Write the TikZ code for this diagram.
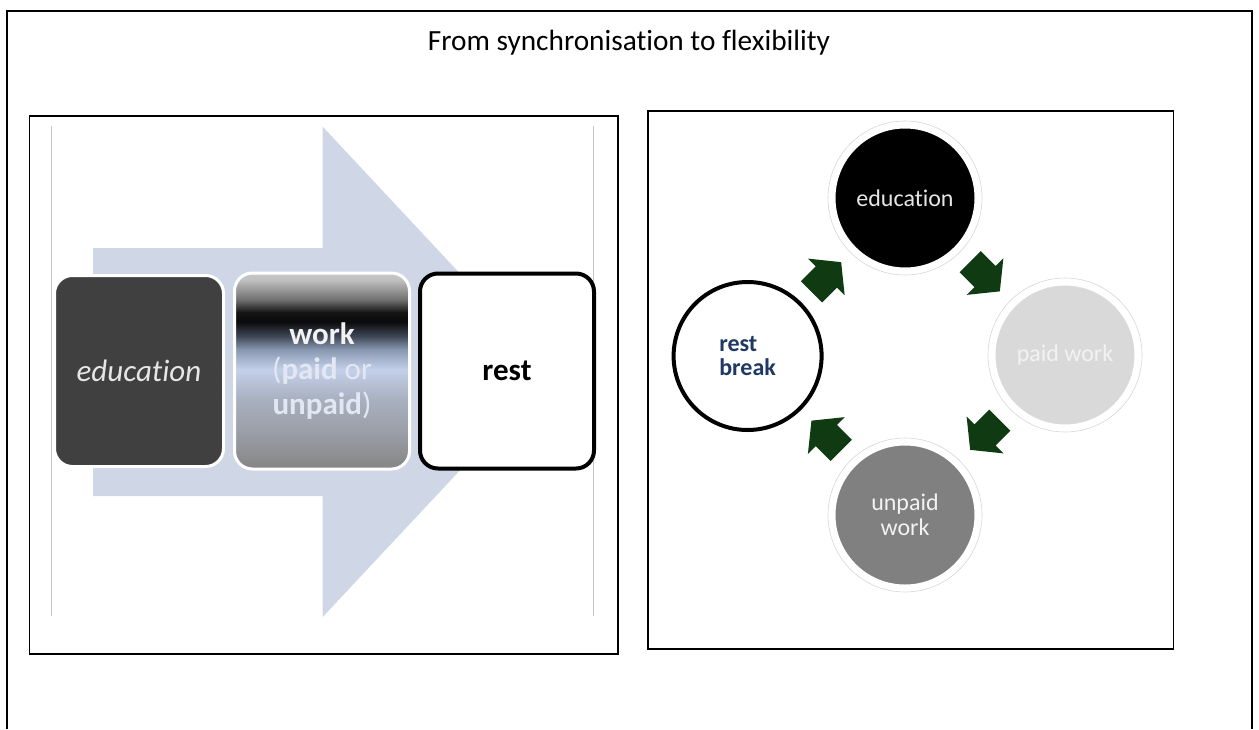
\documentclass[tikz,border=0pt]{standalone}
\usepackage{fontspec}
\setmainfont{Carlito}[Ligatures=NoCommon]
\usepackage{xcolor}
\usetikzlibrary{positioning,calc}
\definecolor{flowband}{HTML}{CFD7E6}
\definecolor{edufill}{HTML}{404040}
\definecolor{edutxt}{HTML}{E6E6E6}
\definecolor{paidfill}{HTML}{D9D9D9}
\definecolor{paidtxt}{HTML}{F2F2F2}
\definecolor{unpaidfill}{HTML}{808080}
\definecolor{worktxt}{HTML}{E2E8F2}
\definecolor{restnavy}{HTML}{1F3864}
\definecolor{cyclegreen}{HTML}{103A12}
\definecolor{wkA}{HTML}{858585}
\definecolor{wkB}{HTML}{9A9EA6}
\definecolor{wkC}{HTML}{A8B0C0}
\definecolor{wkD}{HTML}{C4D0EA}
\definecolor{wkE}{HTML}{8898B0}
\definecolor{wkF}{HTML}{404858}
\definecolor{wkG}{HTML}{0A0A0A}
\definecolor{wkH}{HTML}{151515}
\definecolor{wkI}{HTML}{707070}
\definecolor{wkJ}{HTML}{C0C0C0}
\definecolor{wkK}{HTML}{C8C8C8}
\pgfdeclareverticalshading{workshade}{100bp}{color(0bp)=(wkA); color(25bp)=(wkA); color(34.3bp)=(wkB); color(42.7bp)=(wkC); color(50.4bp)=(wkD); color(55.5bp)=(wkE); color(58.8bp)=(wkF); color(62.6bp)=(wkG); color(65bp)=(wkH); color(68.2bp)=(wkI); color(73.3bp)=(wkJ); color(75bp)=(wkK); color(100bp)=(wkK)}

\begin{document}
\begin{tikzpicture}[x=1pt, y=-1pt,
  every node/.style={inner sep=0pt},
  panel/.style={draw=black, line width=1.8pt},
  stagebox/.style={rounded corners=18pt, minimum width=175pt, minimum height=196pt, line width=3pt, draw=white, font=\fontsize{31}{35}\selectfont, align=center},
  phase/.style={circle, minimum size=144pt, line width=5pt, draw=white, font=\fontsize{24}{25}\selectfont, align=center},
  halo/.style={draw=black!16, line width=0.6pt},
  turn/.pic={\fill[cyclegreen] (-21,-15) -- (0,-15) -- (0,-26) -- (21,0) -- (0,26) -- (0,15) -- (-21,15) -- cycle;}]
  \useasboundingbox (0,0) rectangle (1259,729);
  \draw[line width=2pt] (6.5,729) -- (6.5,11) -- (1252,11) -- (1252,729);
  \node[font=\fontsize{29.3}{34}\selectfont, anchor=base] (title) at (629,50) {From synchronisation to flexibility};

  \draw[panel] (29.5,116) rectangle (618,654);
  \draw[black!22, line width=0.8pt] (51,126) -- (51,616);
  \draw[black!22, line width=0.8pt] (593,126) -- (593,616);
  \fill[flowband] (93,248) -- (322.7,248) -- (322.7,126.7) -- (552,372) -- (322.7,617) -- (322.7,496) -- (93,496) -- cycle;
  \node[stagebox, fill=edufill, minimum width=169pt, minimum height=191pt] (edubox) at (139,371) {\textcolor{edutxt}{\itshape education}};
  \node[stagebox, shading=workshade, right=8pt of edubox] (workbox) {\textcolor{paidtxt}{\bfseries work}\\\textcolor{worktxt}{(\textbf{paid} or}\\\textcolor{worktxt}{\textbf{unpaid})}};
  \node[stagebox, fill=white, draw=black, line width=4pt, minimum width=174pt, minimum height=195pt, right=7pt of workbox] (restbox) {\bfseries rest};

  \draw[panel] (648,111) rectangle (1173.5,649);
  \node[phase, fill=black] (educ) at (905,198) {\textcolor{edutxt}{education}};
  \node[phase, fill=paidfill] (paidc) at (1065,355) {\textcolor{paidtxt}{paid work}};
  \node[phase, fill=unpaidfill] (unpaidc) at (905,515) {\textcolor{paidtxt}{unpaid}\\\textcolor{paidtxt}{work}};
  \node[phase, fill=white, draw=black, line width=4pt, minimum size=148pt, align=left, font=\fontsize{24}{24.5}\selectfont\bfseries, text=restnavy] (restc) at (747.6,356) {rest\\break};
  \draw[halo] (educ) circle (77pt);
  \draw[halo] (paidc) circle (77pt);
  \draw[halo] (unpaidc) circle (77pt);
  \pic[rotate=45] at ($(restc)!0.5!(educ)$) {turn};
  \pic[rotate=-45] at ($(educ)!0.5!(paidc)$) {turn};
  \pic[rotate=-135] at ($(paidc)!0.5!(unpaidc)$) {turn};
  \pic[rotate=135] at ($(unpaidc)!0.5!(restc)$) {turn};
\end{tikzpicture}
\end{document}
